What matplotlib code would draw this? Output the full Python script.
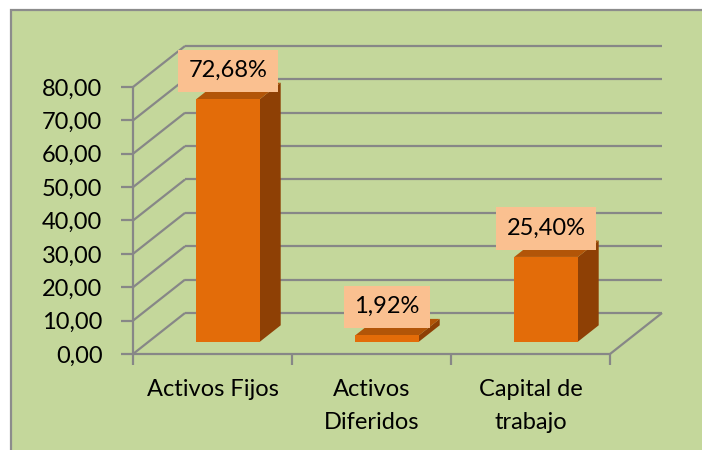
import matplotlib.pyplot as plt
from matplotlib.patches import Polygon, Rectangle

categorias = ["Activos Fijos", "Activos\nDiferidos", "Capital de\ntrabajo"]
porcentajes = [72.68, 1.92, 25.40]
marcas_y = [0, 10, 20, 30, 40, 50, 60, 70, 80]

plt.rcParams['font.family'] = ['Lato', 'DejaVu Sans']

GRIS = '#878787'
VERDE = '#c4d79b'
NARANJA = '#e36c09'
LATERAL = '#8e4005'
TAPA = '#b25508'
ETIQUETA = '#fac090'
TAM = 17

fig = plt.figure(figsize=(7.02, 4.5), dpi=100)
fig.patch.set_facecolor('white')
# fondo verde del grafico con borde gris
fig.patches.append(Rectangle((11 / 702, -0.1), 1.0, 1.1 - 10 / 450,
                             transform=fig.transFigure, facecolor=VERDE,
                             edgecolor='#8c8c8c', lw=1.6, zorder=-1))

ax = fig.add_axes([133 / 702, 96 / 450, 477 / 702, 267 / 450])
ax.set_zorder(1)
ax.set_xlim(0, len(categorias))
ax.set_ylim(0, 80)
ax.patch.set_alpha(0)
for s in ax.spines.values():
    s.set_visible(False)

# desplazamiento oblicuo por unidad de profundidad (en unidades de datos)
PX = 52 / 159
PY = 41 * 80 / 267


def proy(x, y, d):
    return x + PX * d, y + PY * d


def linea(p, q):
    ax.plot([p[0], q[0]], [p[1], q[1]], color=GRIS, lw=1.6,
            clip_on=False, zorder=1, solid_capstyle='butt')


n = len(categorias)
for v in marcas_y:
    linea(proy(0, v, 0), proy(0, v, 1))
    linea(proy(0, v, 1), proy(n, v, 1))
linea(proy(0, 0, 0), proy(n, 0, 0))
linea(proy(n, 0, 0), proy(n, 0, 1))
linea(proy(0, 0, 0), proy(0, 80, 0))

# ejes
ax.set_yticks(marcas_y)
ax.set_yticklabels([f"{v:.2f}".replace('.', ',') for v in marcas_y])
ax.tick_params(axis='y', length=9, width=1.6, color=GRIS, pad=13,
               labelsize=TAM, labelcolor='black')
ax.set_xticks([i + 0.5 for i in range(n)])
ax.set_xticklabels(categorias, linespacing=1.7)
ax.set_xticks(range(n + 1), minor=True)
ax.tick_params(axis='x', which='major', length=0, pad=18, labelsize=TAM)
ax.tick_params(axis='x', which='minor', length=8, width=1.6, color=GRIS)

# barras 3D
d0, d1 = 0.3, 0.7
ancho = 0.4
for i, v in enumerate(porcentajes):
    x0 = i + 0.5 - ancho / 2
    x1 = i + 0.5 + ancho / 2
    frente = [proy(x0, 0, d0), proy(x1, 0, d0), proy(x1, v, d0), proy(x0, v, d0)]
    lado = [proy(x1, 0, d0), proy(x1, 0, d1), proy(x1, v, d1), proy(x1, v, d0)]
    tapa = [proy(x0, v, d0), proy(x1, v, d0), proy(x1, v, d1), proy(x0, v, d1)]
    for pts, col in ((lado, LATERAL), (tapa, TAPA), (frente, NARANJA)):
        ax.add_patch(Polygon(pts, closed=True, facecolor=col, edgecolor='none',
                             clip_on=False, zorder=3))
    etiqueta = f"{v:.2f}".replace('.', ',') + "%"
    ax.annotate(etiqueta, xy=proy(i + 0.5, v, d0), xytext=(0, 18),
                textcoords='offset pixels', ha='center', va='bottom',
                fontsize=TAM, zorder=5,
                bbox=dict(boxstyle='square,pad=0.45', fc=ETIQUETA, ec='none'))

fig.savefig('out.png', dpi=100)
